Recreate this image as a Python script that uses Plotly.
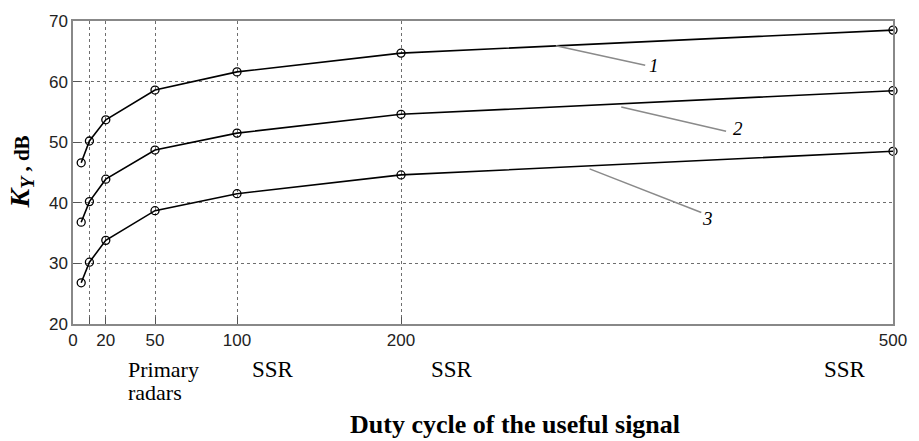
import plotly.graph_objects as go

duty = [5, 10, 20, 50, 100, 200, 500]
k1 = [46.6, 50.2, 53.7, 58.6, 61.6, 64.7, 68.5]
k2 = [36.8, 40.2, 43.9, 48.7, 51.5, 54.6, 58.5]
k3 = [26.8, 30.2, 33.8, 38.7, 41.5, 44.6, 48.5]
series = [("1", k1), ("2", k2), ("3", k3)]

x_tickvals = [0, 20, 50, 100, 200, 500]
x_minor_tickvals = [10]
y_tickvals = [20, 30, 40, 50, 60, 70]

# leader lines: (x0, y0, x1, y1) and label position
leaders = [(294.4, 65.9, 348.9, 62.7), (334.3, 55.8, 398.2, 51.8), (315.0, 45.6, 383.1, 38.4)]
label_pos = [(354.3, 62.7), (405.7, 52.2), (386.9, 37.4)]

SERIF = "Liberation Serif"
SANS = "Liberation Sans"

fig = go.Figure()
for name, vals in series:
    fig.add_trace(go.Scatter(
        x=duty, y=vals, mode="lines+markers", name=name,
        line=dict(color="black", width=1.6),
        marker=dict(symbol="circle-open", size=8, color="black", line=dict(width=1.3)),
        showlegend=False, cliponaxis=False,
    ))

for (x0, y0, x1, y1) in leaders:
    fig.add_shape(type="line", x0=x0, y0=y0, x1=x1, y1=y1, xref="x", yref="y",
                  line=dict(color="#8a8a8a", width=1.5))

for (name, _), (lx, ly) in zip(series, label_pos):
    fig.add_annotation(x=lx, y=ly, xref="x", yref="y", text="<i>" + name + "</i>",
                       showarrow=False, font=dict(family=SERIF, size=19, color="black"))

PW = 828.0  # plot width in px
def px(p):
    return (p - 73) / PW

# category annotations below the axis
fig.add_annotation(x=px(127), y=0, xref="paper", yref="paper", xanchor="left", yanchor="middle",
                   yshift=-45, text="Primary", showarrow=False,
                   font=dict(family=SERIF, size=22, color="black"))
fig.add_annotation(x=px(127), y=0, xref="paper", yref="paper", xanchor="left", yanchor="middle",
                   yshift=-68, text="radars", showarrow=False,
                   font=dict(family=SERIF, size=22, color="black"))
for xl in [252, 432, 829]:
    fig.add_annotation(x=px(xl), y=0, xref="paper", yref="paper", xanchor="left", yanchor="middle",
                       yshift=-45, text="SSR", showarrow=False,
                       font=dict(family=SERIF, size=23, color="black"))

# x title
fig.add_annotation(x=px(519), y=0, xref="paper", yref="paper", xanchor="center", yanchor="middle",
                   yshift=-100, text="<b>Duty cycle of the useful signal</b>",
                   showarrow=False, font=dict(family=SERIF, size=26, color="black"))

# y title
fig.add_annotation(x=0, y=0.5, xref="paper", yref="paper", xanchor="center", yanchor="middle",
                   xshift=-52, yshift=0, textangle=-90,
                   text="<b><i>K</i></b><sub><b><i>Y</i></b></sub><span style='font-size:21px'><b> , dB</b></span>",
                   showarrow=False, font=dict(family=SERIF, size=28, color="black"))

axis_common = dict(
    showline=True, linecolor="#888888", linewidth=1.5, mirror=True,
    showgrid=True, gridcolor="#6e6e6e", griddash="dot", gridwidth=1,
    ticks="inside", ticklen=7, tickcolor="#555555", tickwidth=1,
    zeroline=False,
    tickfont=dict(family=SANS, size=17, color="#222222"),
)

fig.update_xaxes(range=[0, 500], tickmode="array", tickvals=x_tickvals,
                 minor=dict(tickmode="array", tickvals=x_minor_tickvals, showgrid=True,
                            gridcolor="#6e6e6e", griddash="dot", gridwidth=1,
                            ticks="inside", ticklen=7, tickcolor="#555555"),
                 **axis_common)
fig.update_yaxes(range=[20, 70], tickmode="array", tickvals=y_tickvals, **axis_common)

fig.update_layout(
    width=919, height=441,
    margin=dict(l=73, r=18, t=15, b=117),
    paper_bgcolor="white", plot_bgcolor="white",
)

fig.write_html("out.html")
